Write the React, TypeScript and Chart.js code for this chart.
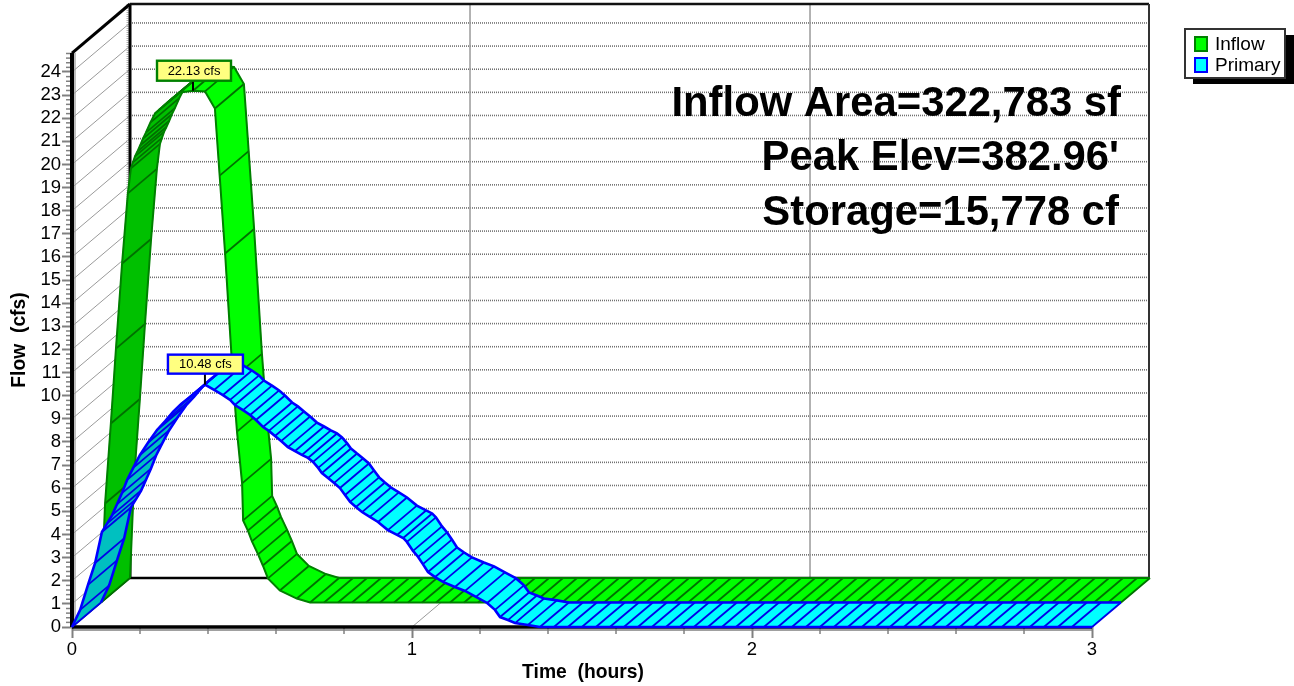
import React, { useEffect, useRef } from "react";
import { Chart, registerables } from "chart.js";

Chart.register(...registerables);

const FONT = '"Liberation Sans", Arial, sans-serif';
const seriesNames = ["Inflow", "Primary"];
const xAxisTitle = "Time  (hours)";
const yAxisTitle = "Flow  (cfs)";
const notes = ["Inflow Area=322,783 sf", "Peak Elev=382.96'", "Storage=15,778 cf"];
const xLabels = [0, 1, 2, 3];
const yLabels = [0, 1, 2, 3, 4, 5, 6, 7, 8, 9, 10, 11, 12, 13, 14, 15, 16, 17, 18, 19, 20, 21, 22, 23, 24];

const inflowTime = [0, 0.012, 0.029, 0.044, 0.062, 0.079, 0.088, 0.094, 0.1, 0.107, 0.115, 0.123, 0.132, 0.145, 0.159, 0.17, 0.182, 0.195, 0.209, 0.232, 0.2706, 0.306, 0.335, 0.349, 0.365, 0.388, 0.4, 0.415, 0.418, 0.432, 0.444, 0.462, 0.476, 0.491, 0.526, 0.576, 0.615, 3];
const inflowFlow = [0, 4.28, 7.74, 10.98, 14.66, 17.69, 18.77, 19.03, 19.29, 19.5, 19.76, 20.05, 20.32, 20.75, 21.15, 21.3, 21.45, 21.62, 21.79, 22.05, 22.13, 22.1, 21.36, 18.46, 15.09, 9.69, 7.39, 5.15, 3.55, 3.11, 2.64, 2.08, 1.6, 1.04, 0.52, 0.17, 0, 0];

const primaryTime = [0, 0.024, 0.047, 0.068, 0.088, 0.103, 0.118, 0.132, 0.147, 0.162, 0.18, 0.2, 0.224, 0.25, 0.274, 0.297, 0.321, 0.347, 0.368, 0.391, 0.418, 0.444, 0.465, 0.479, 0.503, 0.524, 0.541, 0.562, 0.579, 0.597, 0.615, 0.635, 0.656, 0.676, 0.694, 0.709, 0.724, 0.735, 0.753, 0.771, 0.788, 0.803, 0.818, 0.835, 0.853, 0.876, 0.9, 0.929, 0.956, 0.974, 0.985, 1.003, 1.018, 1.032, 1.047, 1.068, 1.091, 1.126, 1.156, 1.188, 1.221, 1.244, 1.259, 1.282, 1.303, 1.341, 1.376, 3];
const primaryFlow = [0, 0.74, 1.82, 2.77, 4.11, 4.47, 4.84, 5.3, 5.79, 6.36, 6.88, 7.44, 7.98, 8.52, 8.9, 9.3, 9.64, 9.95, 10.2, 10.48, 10.25, 10.03, 9.82, 9.6, 9.38, 9.17, 8.95, 8.65, 8.48, 8.26, 8.04, 7.78, 7.61, 7.44, 7.31, 7.14, 6.88, 6.66, 6.44, 6.23, 6.01, 5.71, 5.41, 5.19, 4.97, 4.76, 4.54, 4.19, 3.98, 3.85, 3.68, 3.29, 3.03, 2.72, 2.38, 2.16, 1.95, 1.73, 1.56, 1.3, 1.04, 0.74, 0.43, 0.3, 0.17, 0.09, 0, 0];

const inflowPeak = { t: 0.2706, q: 22.13, text: "22.13 cfs" };
const primaryPeak = { t: 0.391, q: 10.48, text: "10.48 cfs" };

// Depth of one series ribbon, in axis units (the 3-D projection of the plot).
const RIBBON_T = 0.0853;
const RIBBON_Q = 1.06;
const X_MAX = 3.1676;
const Y_MAX = 26.94;

const series = [
  { name: seriesNames[1], t: primaryTime, q: primaryFlow, slot: 0, bright: "#00FFFF", dark: "#00C0C0", edge: "#0000FF", hatch: "#0000E8", width: 2.6, peak: primaryPeak, box: [-37, -30, 75, 19] },
  { name: seriesNames[0], t: inflowTime, q: inflowFlow, slot: 1, bright: "#00FF00", dark: "#00C000", edge: "#008000", hatch: "#007000", width: 2, peak: inflowPeak, box: [-36, -30, 74, 20] },
];

const pts = (s: any, k: number) =>
  s.t.map((t: number, i: number) => ({ x: t + (s.slot + k) * RIBBON_T, y: s.q[i] + (s.slot + k) * RIBBON_Q }));

const ribbonPlugin = {
  id: "ribbon",
  beforeDatasetDraw(chart: any, args: any) {
    const ds = chart.data.datasets[args.index];
    if (!ds.ribbon) return;
    const s = ds.ribbon;
    const { x: X, y: Y } = chart.scales;
    const ctx = chart.ctx;
    const f = pts(s, 0).map((p: any) => [X.getPixelForValue(p.x), Y.getPixelForValue(p.y)]);
    const b = pts(s, 1).map((p: any) => [X.getPixelForValue(p.x), Y.getPixelForValue(p.y)]);
    const dxd = b[0][0] - f[0][0];
    const dyd = f[0][1] - b[0][1];
    ctx.save();
    for (let i = 0; i + 1 < f.length; i++) {
      const dx = f[i + 1][0] - f[i][0];
      const rise = f[i][1] - f[i + 1][1];
      const under = rise * dxd > dyd * dx;
      ctx.fillStyle = under ? s.dark : s.bright;
      ctx.strokeStyle = ctx.fillStyle;
      ctx.lineWidth = 0.6;
      ctx.beginPath();
      ctx.moveTo(f[i][0], f[i][1]);
      ctx.lineTo(f[i + 1][0], f[i + 1][1]);
      ctx.lineTo(b[i + 1][0], b[i + 1][1]);
      ctx.lineTo(b[i][0], b[i][1]);
      ctx.closePath();
      ctx.fill();
      ctx.stroke();
    }
    ctx.strokeStyle = s.hatch;
    ctx.lineWidth = 1.8;
    const hatch = (x: number, y: number) => {
      ctx.beginPath();
      ctx.moveTo(x, y);
      ctx.lineTo(x + dxd, y - dyd);
      ctx.stroke();
    };
    for (let i = 0; i < f.length; i++) {
      hatch(f[i][0], f[i][1]);
      if (i + 1 < f.length && f[i + 1][0] - f[i][0] > 30) {
        for (let x = f[i][0] + 14; x < f[i + 1][0] - 7; x += 14) hatch(x, f[i][1]);
      }
    }
    ctx.restore();
  },
};

const framePlugin = {
  id: "frame",
  beforeDatasetsDraw(chart: any) {
    const { x: X, y: Y } = chart.scales;
    const ctx = chart.ctx;
    const depthT = 2 * RIBBON_T;
    const depthQ = 2 * RIBBON_Q;
    const x0 = X.getPixelForValue(0);
    const y0 = Y.getPixelForValue(0);
    const bx0 = X.getPixelForValue(depthT);
    const by0 = Y.getPixelForValue(depthQ);
    const xr = chart.chartArea.right;
    const top = chart.chartArea.top;
    const frontTop = top + (y0 - by0);
    const line = (a: number, b: number, c: number, d: number, col: string, w: number, dash: number[] = []) => {
      ctx.save();
      ctx.strokeStyle = col;
      ctx.lineWidth = w;
      ctx.setLineDash(dash);
      ctx.beginPath();
      ctx.moveTo(a, b);
      ctx.lineTo(c, d);
      ctx.stroke();
      ctx.restore();
    };
    // gray axis shadow and minor ticks
    line(x0, y0 + 3, X.getPixelForValue(3), y0 + 3, "#808080", 1.5);
    line(x0 + 3, frontTop, x0 + 3, y0, "#a8a8a8", 1.5);
    for (let k = 0; k <= 15; k++) {
      if (k % 5 === 0) continue;
      const px = X.getPixelForValue(k / 5);
      line(px, y0, px, y0 + 7, "#808080", 1.5);
    }
    for (let k = 0; k <= 124; k++) {
      if (k % 5 === 0) continue;
      const py = Y.getPixelForValue(k / 5);
      line(x0 - 6, py, x0, py, "#808080", 1.5);
    }
    // side wall and back wall grid
    yLabels.forEach((q) => {
      if (q === 0) return;
      const py = Y.getPixelForValue(q);
      const pb = Y.getPixelForValue(q + depthQ);
      line(x0, py, bx0, pb, "#9a9a9a", 1);
      line(bx0, pb, xr, pb, "#707070", 1.6, [1, 1]);
    });
    xLabels.forEach((t) => {
      if (t === 0) return;
      const px = X.getPixelForValue(t);
      const pb = X.getPixelForValue(t + depthT);
      line(px, y0, pb, by0, "#9a9a9a", 1);
      if (t < 3) line(pb, top, pb, by0, "#9a9a9a", 1.5);
    });
    line(bx0 - 2.5, top, bx0 - 2.5, by0, "#b0b0b0", 2, [1, 1]);
    // frame
    line(x0, y0, bx0, by0, "#000", 1.5);
    line(bx0, by0, xr, by0, "#000", 2.5);
    line(bx0, top, bx0, by0, "#000", 3);
    line(bx0, top, xr, top, "#111", 2.5);
    line(x0, frontTop, bx0, top, "#000", 3);
    line(xr, top, xr, by0, "#333", 2);
    line(x0, frontTop, x0, y0, "#000", 4);
    line(x0, y0, X.getPixelForValue(3), y0, "#000", 3.5);
  },
  afterDatasetsDraw(chart: any) {
    const { x: X, y: Y } = chart.scales;
    const ctx = chart.ctx;
    ctx.save();
    series.forEach((s) => {
      const px = X.getPixelForValue(s.peak.t + s.slot * RIBBON_T);
      const py = Y.getPixelForValue(s.peak.q + s.slot * RIBBON_Q);
      const [ox, oy, w, h] = s.box;
      ctx.strokeStyle = "#000";
      ctx.lineWidth = 2;
      ctx.beginPath();
      ctx.moveTo(px, py);
      ctx.lineTo(px, py + oy + h);
      ctx.stroke();
      ctx.fillStyle = "#FFFF80";
      ctx.fillRect(px + ox, py + oy, w, h);
      ctx.strokeStyle = s.edge;
      ctx.lineWidth = 2.4;
      ctx.strokeRect(px + ox, py + oy, w, h);
      ctx.fillStyle = "#000";
      ctx.font = `13px ${FONT}`;
      ctx.textAlign = "center";
      ctx.textBaseline = "middle";
      ctx.fillText(s.peak.text, px + ox + w / 2, py + oy + h / 2 + 0.5);
    });

    // notes
    ctx.fillStyle = "#000";
    ctx.font = `bold 41.8px ${FONT}`;
    ctx.textAlign = "right";
    ctx.textBaseline = "alphabetic";
    ctx.fillText(notes[0], 1121, 116);
    ctx.fillText(notes[1], 1119, 170);
    ctx.fillText(notes[2], 1119, 225);

    // axis titles
    ctx.font = `bold 19.3px ${FONT}`;
    ctx.textAlign = "center";
    ctx.fillText(xAxisTitle, 583, 678);
    ctx.save();
    ctx.translate(25, 340);
    ctx.rotate(-Math.PI / 2);
    ctx.fillText(yAxisTitle, 0, 0);
    ctx.restore();

    // legend
    ctx.fillStyle = "#000";
    ctx.fillRect(1193, 35, 101, 49);
    ctx.fillStyle = "#fff";
    ctx.fillRect(1185, 29, 100, 49);
    ctx.strokeStyle = "#333";
    ctx.lineWidth = 2;
    ctx.strokeRect(1185, 29, 100, 49);
    ctx.font = `19px ${FONT}`;
    ctx.textAlign = "left";
    [series[1], series[0]].forEach((s, i) => {
      const yy = 36 + i * 21;
      ctx.fillStyle = s.bright;
      ctx.fillRect(1195, yy + 1, 12, 14);
      ctx.strokeStyle = s.edge;
      ctx.lineWidth = 2;
      ctx.strokeRect(1195, yy + 1, 12, 14);
      ctx.fillStyle = "#000";
      ctx.fillText(s.name, 1215, yy + 14);
    });
    ctx.restore();
  },
};

export default function App() {
  const ref = useRef<HTMLCanvasElement | null>(null);
  useEffect(() => {
    const datasets: any[] = [];
    series.forEach((s, i) => {
      const common = { borderColor: s.edge, borderWidth: s.width, pointRadius: 0, tension: 0, fill: false, clip: false };
      datasets.push({ ...common, label: s.name, data: pts(s, 0), order: i * 2 + 1 });
      datasets.push({ ...common, label: s.name + " rear", data: pts(s, 1), order: i * 2 + 2, ribbon: s });
    });
    const chart = new Chart(ref.current as HTMLCanvasElement, {
      type: "line",
      data: { datasets },
      options: {
        animation: false,
        responsive: false,
        devicePixelRatio: 1,
        layout: { padding: { top: 4, right: 145, left: 0, bottom: 0 } },
        plugins: { legend: { display: false }, tooltip: { enabled: false }, title: { display: false } },
        scales: {
          x: {
            type: "linear",
            min: 0,
            max: X_MAX,
            afterBuildTicks: (sc: any) => {
              sc.ticks = xLabels.map((v) => ({ value: v }));
            },
            afterFit: (sc: any) => {
              sc.height = 59;
              sc.paddingLeft = 0;
              sc.paddingRight = 0;
            },
            grid: { drawOnChartArea: false, drawTicks: true, tickLength: 11, tickColor: "#808080", tickWidth: 2 },
            border: { display: false },
            ticks: { color: "#000", font: { family: FONT, size: 18.5 }, padding: 1, maxRotation: 0, autoSkip: false, callback: (v: any) => String(v) },
          },
          y: {
            type: "linear",
            min: 0,
            max: Y_MAX,
            afterBuildTicks: (sc: any) => {
              sc.ticks = yLabels.map((v) => ({ value: v }));
            },
            afterFit: (sc: any) => {
              sc.width = 72;
              sc.paddingTop = 0;
              sc.paddingBottom = 0;
            },
            grid: { drawOnChartArea: false, drawTicks: true, tickLength: 10, tickColor: "#808080", tickWidth: 2 },
            border: { display: false },
            ticks: { color: "#000", font: { family: FONT, size: 18.5 }, padding: 1, autoSkip: false, callback: (v: any) => String(v) },
          },
        },
      } as any,
      plugins: [framePlugin, ribbonPlugin],
    } as any);
    return () => chart.destroy();
  }, []);
  return (
    <div style={{ position: "absolute", left: 0, top: 0, width: 1294, height: 686, background: "#fff", overflow: "hidden" }}>
      <canvas ref={ref} width={1294} height={686} style={{ display: "block" }} />
    </div>
  );
}
